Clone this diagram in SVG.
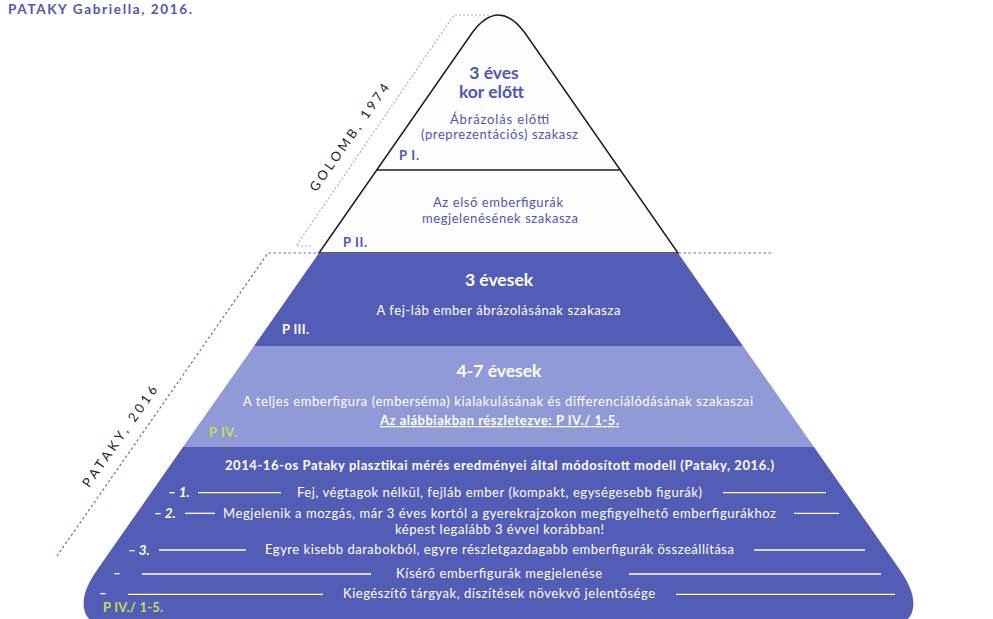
<svg xmlns="http://www.w3.org/2000/svg" width="993" height="619" viewBox="0 0 993 619">
<style>
  text { font-family: Lato, "Liberation Sans", sans-serif; }
  .blue { fill: #4f57b3; }
  .wh { fill: #ffffff; }
  .grn { fill: #c3dd5e; font-weight: bold; font-size: 13px; }
  .big { font-weight: bold; font-size: 17.5px; }
  .norm { font-size: 13px; }
  .lbl { font-weight: bold; font-size: 13px; }
  .num { font-weight: bold; font-style: italic; font-size: 13.5px; fill: #ffffff; }
  .wl { stroke: #ffffff; stroke-width: 1.3; }
  .rot { font-size: 13px; fill: #1e1e1e; }
</style>

<text x="8" y="13.5" class="blue" font-weight="bold" font-size="13.5" textLength="184">PATAKY Gabriella, 2016.</text>

<g id="p1-p2">
  <path d="M 319 253 L 472 33 Q 498.5 -3 525 33 L 678 253 Z" fill="#fdfdfe" stroke="#1e1e1e" stroke-width="1.5"/>
  <line x1="376.7" y1="170" x2="620.3" y2="170" stroke="#1e1e1e" stroke-width="1.5"/>
</g>

<g id="p3">
  <path d="M 319 253 L 678 253 L 743 346 L 254 346 Z" fill="#535db5"/>
</g>
<g id="p4">
  <path d="M 254 346 L 743 346 L 814 447 L 183 447 Z" fill="#8f9ad6"/>
</g>
<g id="p4-1-5">
  <path d="M 183 447 L 814 447 L 900 570 C 909 583, 915 596, 913 608 C 912 616, 907 622, 897 625 L 100 625 C 90 622, 85 616, 84 608 C 82 596, 88 583, 97 570 Z" fill="#535db5"/>
</g>

<g id="connectors">
  <polyline points="311,246 296,246 454,15 489,15" fill="none" stroke="#aaa6e6" stroke-width="1.2" stroke-dasharray="2 2"/>
  <polyline points="771,253 268,253 57,556" fill="none" stroke="#7d5cc9" stroke-width="1.2" stroke-dasharray="2.5 2.5"/>
</g>

<g id="bracket-labels">
  <text class="rot" transform="translate(353,140) rotate(-55)" text-anchor="middle" textLength="128">GOLOMB, 1974</text>
  <text class="rot" transform="translate(123.5,439) rotate(-55)" text-anchor="middle" textLength="120">PATAKY, 2016</text>
</g>

<g id="p1-text">
  <text x="494" y="79" class="blue big" text-anchor="middle">3 éves</text>
  <text x="491.5" y="98" class="blue big" text-anchor="middle">kor előtt</text>
  <text x="499.5" y="124" class="blue norm" text-anchor="middle" textLength="99">Ábrázolás előtti</text>
  <text x="499.5" y="139" class="blue norm" text-anchor="middle" textLength="157">(preprezentációs) szakasz</text>
  <text x="399" y="160" class="blue lbl" textLength="20">P I.</text>
</g>

<g id="p2-text">
  <text x="498" y="207" class="blue norm" text-anchor="middle" textLength="130">Az első emberfigurák</text>
  <text x="500" y="223" class="blue norm" text-anchor="middle" textLength="156">megjelenésének szakasza</text>
  <text x="343" y="247" class="blue lbl" textLength="24">P II.</text>
</g>

<g id="p3-text">
  <text x="499" y="286" class="wh big" text-anchor="middle">3 évesek</text>
  <text x="498.5" y="315" class="wh norm" text-anchor="middle" textLength="244">A fej-láb ember ábrázolásának szakasza</text>
  <text x="282" y="334" class="wh lbl" textLength="27">P III.</text>
</g>

<g id="p4-text">
  <text x="499" y="377" class="wh big" text-anchor="middle">4-7 évesek</text>
  <text x="498" y="406" class="wh norm" text-anchor="middle" textLength="510">A teljes emberfigura (emberséma) kialakulásának és differenciálódásának szakaszai</text>
  <text x="499.5" y="425" class="wh" font-weight="bold" font-size="13" text-anchor="middle" textLength="239" text-decoration="underline">Az alábbiakban részletezve: P IV./ 1-5.</text>
  <text x="209" y="437" class="grn" textLength="28">P IV.</text>
</g>

<g id="p4-1-5-text">
  <text x="499.5" y="470" class="wh" font-weight="bold" font-size="13" text-anchor="middle" textLength="549">2014-16-os Pataky plasztikai mérés eredményei által módosított modell (Pataky, 2016.)</text>

  <text x="168" y="497" class="num">– 1.</text>
  <line x1="198" y1="492.7" x2="281" y2="492.7" class="wl"/>
  <text x="297" y="497" class="wh norm" textLength="405">Fej, végtagok nélkül, fejláb ember (kompakt, egységesebb figurák)</text>
  <line x1="723" y1="492.7" x2="826" y2="492.7" class="wl"/>

  <text x="154" y="518" class="num">– 2.</text>
  <line x1="185" y1="513.3" x2="215" y2="513.3" class="wl"/>
  <text x="223" y="517.5" class="wh norm" textLength="553">Megjelenik a mozgás, már 3 éves kortól a gyerekrajzokon megfigyelhető emberfigurákhoz</text>
  <line x1="794" y1="513.3" x2="839" y2="513.3" class="wl"/>
  <text x="499.5" y="534" class="wh norm" text-anchor="middle" textLength="209">képest legalább 3 évvel korábban!</text>

  <text x="128" y="554.5" class="num">– 3.</text>
  <line x1="159" y1="550" x2="245.7" y2="550" class="wl"/>
  <text x="265" y="554" class="wh norm" textLength="469">Egyre kisebb darabokból, egyre részletgazdagabb emberfigurák összeállítása</text>
  <line x1="754" y1="550" x2="865" y2="550" class="wl"/>

  <text x="113" y="578" class="num">–</text>
  <line x1="142" y1="574" x2="371" y2="574" class="wl"/>
  <text x="396" y="578" class="wh norm" textLength="206">Kísérő emberfigurák megjelenése</text>
  <line x1="629" y1="574" x2="881" y2="574" class="wl"/>

  <text x="99" y="598" class="num">–</text>
  <line x1="128" y1="594.3" x2="323" y2="594.3" class="wl"/>
  <text x="343" y="598" class="wh norm" textLength="312">Kiegészítő tárgyak, díszítések növekvő jelentősége</text>
  <line x1="676" y1="594.3" x2="895" y2="594.3" class="wl"/>

  <text x="103" y="612" class="grn" textLength="60">P IV./ 1-5.</text>
</g>
</svg>
